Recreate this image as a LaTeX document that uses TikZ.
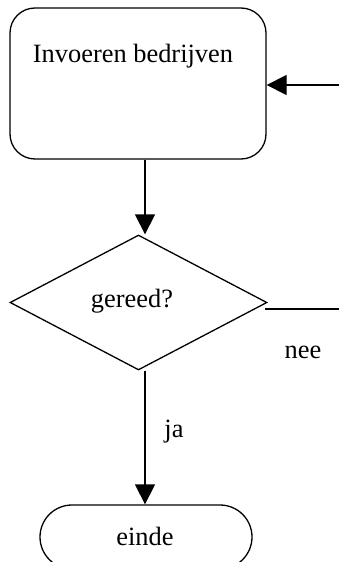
\documentclass[tikz,border=0pt]{standalone}
\usepackage{fontspec}
\setmainfont{Liberation Serif}
\usetikzlibrary{shapes.geometric,shapes.misc,arrows.meta}
\begin{document}
\begin{tikzpicture}[x=1pt,y=-1pt,
  every node/.style={font=\fontsize{26.4}{30}\selectfont},
  ln/.style={line width=1.3pt},
  arr/.style={ln,-{Triangle[length=20pt,width=20pt]}},
  procbox/.style={draw,line width=1.3pt,rounded corners=25pt,minimum width=256pt,minimum height=151pt,inner sep=0pt},
  decbox/.style={draw,line width=1.3pt,diamond,minimum width=257pt,minimum height=135pt,inner sep=0pt},
  endbox/.style={draw,line width=1.3pt,rounded rectangle,minimum width=212pt,minimum height=64pt,inner sep=0pt},
  txt/.style={inner sep=0pt,anchor=base}]
\useasboundingbox (0,0) rectangle (339,562);
\node[procbox] (a) at (138,83.5) {};
\node[txt] (ta) at (133,62) {Invoeren bedrijven};
\node[decbox] (d) at (138.5,302.5) {};
\node[txt] (td) at (132,307) {gereed?};
\node[endbox] (e) at (146,537) {};
\node[txt] (te) at (145,545) {einde};
\node[txt] (nee) at (303,358) {nee};
\node[txt] (ja) at (174,437) {ja};
\coordinate (in) at (339,85);
\coordinate (vx) at (145,0);
\coordinate (nr) at (339,309);
\coordinate (nl) at (265,309);
\draw[arr] (in) -- (a.east |- in);
\draw[arr] (a.south -| vx) -- (d.north -| vx);
\draw[ln] (nl) -- (nr);
\draw[arr] (d.south -| vx) -- (e.north -| vx);
\end{tikzpicture}
\end{document}
